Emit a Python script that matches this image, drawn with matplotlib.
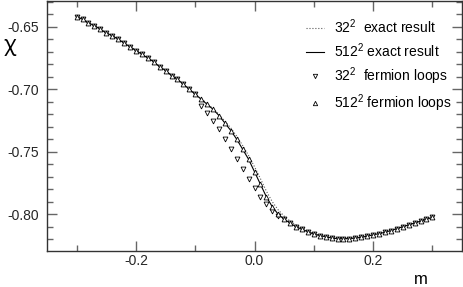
import numpy as np
import matplotlib
matplotlib.use("Agg")
import matplotlib.pyplot as plt

plt.rcParams['font.family'] = ['Liberation Sans', 'DejaVu Sans']
plt.rcParams['mathtext.fontset'] = 'custom'
plt.rcParams['mathtext.rm'] = 'Liberation Sans'
plt.rcParams['mathtext.it'] = 'Liberation Sans:italic'

# mass values (step 0.01)
m = np.round(np.arange(-30, 31) / 100.0, 2)

# 512^2 exact result
chi_512_exact = [
    -0.642, -0.644, -0.647, -0.649, -0.652, -0.655, -0.657, -0.660, -0.663, -0.666,
    -0.669, -0.672, -0.675, -0.678, -0.682, -0.685, -0.689, -0.692, -0.696, -0.700,
    -0.704, -0.708, -0.712, -0.716, -0.721, -0.727, -0.733, -0.740, -0.748, -0.756,
    -0.766, -0.776, -0.786, -0.794, -0.800, -0.804, -0.807, -0.810, -0.812, -0.814,
    -0.816, -0.817, -0.818, -0.819, -0.8195, -0.8195, -0.8195, -0.819, -0.8185, -0.8175,
    -0.8165, -0.8155, -0.8145, -0.813, -0.8115, -0.810, -0.8085, -0.807, -0.8055, -0.804,
    -0.8025,
]

# 32^2 exact result
chi_32_exact = [
    -0.642, -0.644, -0.647, -0.649, -0.652, -0.655, -0.657, -0.660, -0.663, -0.666,
    -0.669, -0.672, -0.675, -0.678, -0.682, -0.685, -0.689, -0.692, -0.696, -0.700,
    -0.7035, -0.7075, -0.7115, -0.7155, -0.720, -0.7255, -0.731, -0.7375, -0.745, -0.753,
    -0.762, -0.7715, -0.7815, -0.790, -0.7965, -0.8015, -0.8055, -0.8085, -0.811, -0.8135,
    -0.8155, -0.817, -0.818, -0.819, -0.8195, -0.8195, -0.8195, -0.819, -0.8185, -0.8175,
    -0.8165, -0.8155, -0.8145, -0.813, -0.8115, -0.810, -0.8085, -0.807, -0.8055, -0.804,
    -0.8025,
]

# 32^2 fermion loops
chi_32_loops = [
    -0.642, -0.644, -0.647, -0.649, -0.652, -0.655, -0.657, -0.660, -0.663, -0.666,
    -0.669, -0.672, -0.675, -0.678, -0.682, -0.685, -0.689, -0.692, -0.696, -0.700,
    -0.704, -0.713, -0.719, -0.725, -0.732, -0.740, -0.748, -0.756, -0.764, -0.772,
    -0.779, -0.786, -0.792, -0.797, -0.801, -0.804, -0.807, -0.810, -0.812, -0.814,
    -0.816, -0.817, -0.818, -0.819, -0.8195, -0.8195, -0.8195, -0.819, -0.8185, -0.8175,
    -0.8165, -0.8155, -0.8145, -0.813, -0.8115, -0.810, -0.8085, -0.807, -0.8055, -0.804,
    -0.8025,
]

# 512^2 fermion loops
chi_512_loops = [
    -0.642, -0.644, -0.647, -0.649, -0.652, -0.655, -0.657, -0.660, -0.663, -0.666,
    -0.669, -0.672, -0.675, -0.678, -0.682, -0.685, -0.689, -0.692, -0.696, -0.700,
    -0.704, -0.708, -0.712, -0.716, -0.721, -0.727, -0.733, -0.740, -0.748, -0.756,
    -0.766, -0.776, -0.786, -0.794, -0.800, -0.804, -0.807, -0.810, -0.812, -0.814,
    -0.816, -0.817, -0.818, -0.819, -0.8195, -0.8195, -0.8195, -0.819, -0.8185, -0.8175,
    -0.8165, -0.8155, -0.8145, -0.813, -0.8115, -0.810, -0.8085, -0.807, -0.8055, -0.804,
    -0.8025,
]

W, H = 463, 287
fig = plt.figure(figsize=(W / 100, H / 100), dpi=100)
ax = fig.add_axes([47 / W, 36 / H, 415 / W, 250 / H])

ax.plot(m, chi_32_exact, ':', color='0.35', lw=0.8, label='32$^2$  exact result')
ax.plot(m, chi_512_exact, '-', color='black', lw=0.8, label='512$^2$ exact result')
ax.plot(m, chi_32_loops, 'v', ms=3.5, mfc='white', mec='black', mew=0.6, ls='none',
        label='32$^2$  fermion loops')
ax.plot(m, chi_512_loops, '^', ms=3.5, mfc='white', mec='black', mew=0.6, ls='none',
        label='512$^2$ fermion loops')

ax.set_xlim(-0.35, 0.35)
ax.set_ylim(-0.8294, -0.6294)
ax.set_xticks([-0.2, 0.0, 0.2])
ax.set_xticklabels(['-0.2', '0.0', '0.2'])
ax.set_xticks(np.arange(-0.3, 0.31, 0.1), minor=True)
ax.set_yticks([-0.80, -0.75, -0.70, -0.65])
ax.set_yticklabels(['-0.80', '-0.75', '-0.70', '-0.65'])
ax.set_yticks(np.arange(-0.82, -0.629, 0.01), minor=True)
ax.tick_params(which='both', direction='in', top=True, right=True, color='0.4',
               labelsize=10, labelcolor='0.15', width=1)
ax.tick_params(which='major', length=7)
ax.tick_params(axis='x', which='major', pad=2)
ax.tick_params(axis='y', which='major', pad=6)
ax.tick_params(which='minor', length=4)
for s in ax.spines.values():
    s.set_linewidth(1)
    s.set_color('0.2')

fig.text(4 / W, 1 - 46 / H, 'χ', fontsize=15, ha='left', va='center',
         family='Noto Sans')
fig.text(421 / W, 1 - 279 / H, 'm', fontsize=12, ha='center', va='center')

ax.legend(loc='upper left', bbox_to_anchor=(306 / W, 1 - 17 / H),
          bbox_transform=fig.transFigure, frameon=False, fontsize=10,
          borderpad=0, borderaxespad=0, handlelength=1.3, handletextpad=0.7,
          labelspacing=0.4, markerscale=0.9)

fig.savefig('out.png', dpi=100)
